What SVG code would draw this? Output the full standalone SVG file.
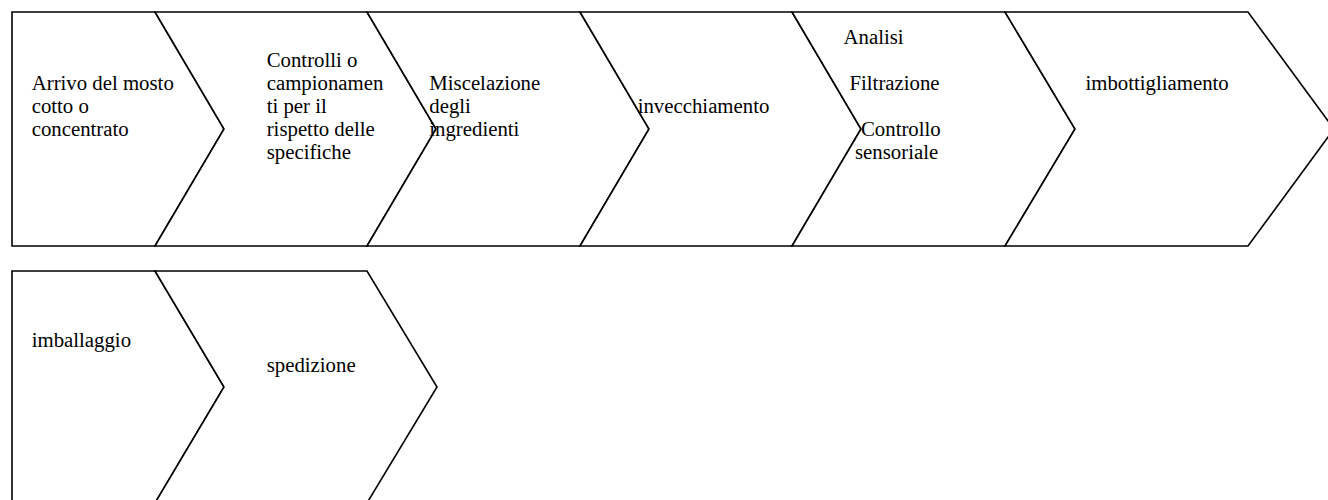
<svg xmlns="http://www.w3.org/2000/svg" width="1328" height="500" viewBox="0 0 1328 500">
<style>
.s{fill:#fff;stroke:#000;stroke-width:1.6;stroke-linejoin:miter}
.t{font-family:"Liberation Serif","Times New Roman",serif;font-size:20.8px;fill:#000}
</style>
<rect width="1328" height="500" fill="#fff"/>
<g id="connectors"/>
<g id="n1"><polygon class="s" points="12,12 155,12 224,129 155,246 12,246"/>
<text class="t"><tspan x="31.7" y="90">Arrivo del mosto</tspan><tspan x="31.7" y="113">cotto o</tspan><tspan x="31.7" y="136">concentrato</tspan></text></g>
<g id="n2"><polygon class="s" points="155,12 367,12 436,129 367,246 155,246 224,129"/>
<text class="t"><tspan x="266.7" y="67">Controlli o</tspan><tspan x="266.7" y="90">campionamen</tspan><tspan x="266.7" y="113">ti per il</tspan><tspan x="266.7" y="136">rispetto delle</tspan><tspan x="266.7" y="159">specifiche</tspan></text></g>
<g id="n3"><polygon class="s" points="367,12 580,12 649,129 580,246 367,246 436,129"/>
<text class="t"><tspan x="429.3" y="90">Miscelazione</tspan><tspan x="429.3" y="113">degli</tspan><tspan x="429.3" y="136">ingredienti</tspan></text></g>
<g id="n4"><polygon class="s" points="580,12 792,12 861,129 792,246 580,246 649,129"/>
<text class="t" x="637.7" y="113">invecchiamento</text></g>
<g id="n5"><polygon class="s" points="792,12 1005,12 1075,129 1005,246 792,246 861,129"/>
<text class="t"><tspan x="843.5" y="44">Analisi</tspan><tspan x="849.5" y="90">Filtrazione</tspan><tspan x="861" y="136">Controllo</tspan><tspan x="855" y="159">sensoriale</tspan></text></g>
<g id="n6"><polygon class="s" points="1005,12 1248,12 1334,129 1248,246 1005,246 1075,129"/>
<text class="t" x="1085.5" y="90">imbottigliamento</text></g>
<g id="n7"><polygon class="s" points="12,271 155,271 224,387 155,503 12,503"/>
<text class="t" x="31.7" y="347">imballaggio</text></g>
<g id="n8"><polygon class="s" points="155,271 367,271 437,387 367,503 155,503 224,387"/>
<text class="t" x="266.7" y="371.7">spedizione</text></g>
</svg>
